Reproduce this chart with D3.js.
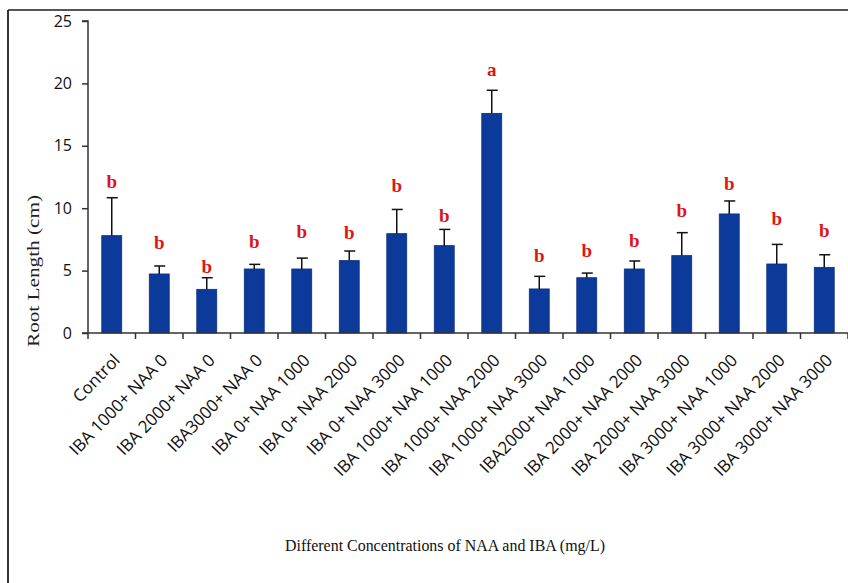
<!DOCTYPE html>
<html>
<head>
<meta charset="utf-8">
<script src="https://cdn.jsdelivr.net/npm/d3@7"></script>
<style>
  html, body { margin: 0; padding: 0; background: #fff; }
  svg { display: block; }
</style>
</head>
<body>
<script>
const categories = ["Control","IBA 1000+ NAA 0","IBA 2000+ NAA 0","IBA3000+ NAA 0","IBA 0+ NAA 1000","IBA 0+ NAA 2000","IBA 0+ NAA 3000","IBA 1000+ NAA 1000","IBA 1000+ NAA 2000","IBA 1000+ NAA 3000","IBA2000+ NAA 1000","IBA 2000+ NAA 2000","IBA 2000+ NAA 3000","IBA 3000+ NAA 1000","IBA 3000+ NAA 2000","IBA 3000+ NAA 3000"];
const means = [7.8, 4.73, 3.5, 5.13, 5.13, 5.8, 7.96, 7.0, 17.6, 3.53, 4.43, 5.13, 6.2, 9.54, 5.53, 5.26];
const errors = [3.04, 0.64, 0.93, 0.37, 0.87, 0.77, 1.94, 1.3, 1.85, 1.01, 0.37, 0.64, 1.84, 1.04, 1.57, 1.01];
const letters = ["b","b","b","b","b","b","b","b","a","b","b","b","b","b","b","b"];
const letterValues = [12.12, 7.24, 5.31, 7.32, 8.12, 8.0, 11.8, 9.4, 21.13, 6.17, 6.57, 7.4, 9.8, 12.0, 9.13, 8.17];
const yTicks = [0, 5, 10, 15, 20, 25];
const yTitle = "Root Length (cm)";
const xTitle = "Different  Concentrations of NAA and IBA (mg/L)";

const W = 848, H = 583;
const svg = d3.select("body").append("svg").attr("width", W).attr("height", H);

// frame
svg.append("line").attr("x1", 8).attr("x2", W).attr("y1", 10).attr("y2", 10)
  .attr("stroke", "#555").attr("stroke-width", 2);
svg.append("line").attr("x1", 8).attr("x2", 8).attr("y1", 10).attr("y2", H)
  .attr("stroke", "#333").attr("stroke-width", 2);

const x = d3.scaleBand().domain(categories).range([88, 848]).paddingInner(0.58).paddingOuter(0.29);
const y = d3.scaleLinear().domain([0, 25]).range([333, 21]);

// bars
svg.append("g").selectAll("rect").data(categories).join("rect")
  .attr("x", d => x(d))
  .attr("y", (d, i) => y(means[i]))
  .attr("width", x.bandwidth())
  .attr("height", (d, i) => y(0) - y(means[i]))
  .attr("fill", "#0c3a9a")
  .attr("stroke", "#0a2f80").attr("stroke-width", 0.8);

// error bars (upper only)
const eg = svg.append("g").attr("stroke", "#111").attr("stroke-width", 1.5);
categories.forEach((c, i) => {
  const cx = x(c) + x.bandwidth() / 2;
  eg.append("line").attr("x1", cx).attr("x2", cx)
    .attr("y1", y(means[i])).attr("y2", y(means[i] + errors[i]));
  eg.append("line").attr("x1", cx - 5).attr("x2", cx + 6)
    .attr("y1", y(means[i] + errors[i])).attr("y2", y(means[i] + errors[i]));
});

// significance letters
svg.append("g").selectAll("text").data(categories).join("text")
  .attr("x", d => x(d) + x.bandwidth() / 2)
  .attr("y", (d, i) => y(letterValues[i]))
  .attr("dy", "0.33em")
  .attr("text-anchor", "middle")
  .attr("font-family", "Liberation Serif, serif")
  .attr("font-weight", "bold")
  .attr("font-size", 19)
  .attr("fill", "#e01414")
  .text((d, i) => letters[i]);

// y axis
const yAxis = svg.append("g").attr("transform", "translate(88,0)")
  .call(d3.axisLeft(y).tickValues(yTicks).tickSize(6).tickPadding(10));
yAxis.selectAll("path, line").attr("stroke", "#333").attr("stroke-width", 1.5);
yAxis.select(".domain").attr("d", `M-6,${y(25)}H0V${y(0)}`);
yAxis.selectAll("text").attr("font-family", "Open Sans, sans-serif").attr("font-size", 16).attr("fill", "#111");

// x axis: ticks at band boundaries
const xAxisG = svg.append("g");
xAxisG.append("line").attr("x1", 82).attr("x2", 848).attr("y1", y(0)).attr("y2", y(0))
  .attr("stroke", "#333").attr("stroke-width", 1.5);
const step = x.step();
const bounds = d3.range(categories.length + 1).map(k => 88 + k * step);
xAxisG.selectAll("line.tk").data(bounds).join("line").attr("class", "tk")
  .attr("x1", d => d).attr("x2", d => d).attr("y1", y(0)).attr("y2", y(0) + 6)
  .attr("stroke", "#333").attr("stroke-width", 1.5);

xAxisG.selectAll("text").data(categories).join("text")
  .attr("transform", d => `translate(${x(d) + x.bandwidth() / 2 + 5},${y(0) + 24}) rotate(-46)`)
  .attr("text-anchor", "end")
  .attr("dy", "0.35em")
  .attr("font-family", "Open Sans, sans-serif")
  .attr("font-size", 17)
  .attr("fill", "#111")
  .text(d => d);

// axis titles
svg.append("text")
  .attr("transform", `translate(39,271) rotate(-90)`)
  .attr("text-anchor", "middle")
  .attr("font-family", "Liberation Serif, serif")
  .attr("font-size", 16)
  .attr("textLength", 152)
  .attr("lengthAdjust", "spacingAndGlyphs")
  .attr("fill", "#222")
  .text(yTitle);

svg.append("text")
  .attr("x", 445).attr("y", 551)
  .attr("text-anchor", "middle")
  .attr("font-family", "Liberation Serif, serif")
  .attr("font-size", 17)
  .attr("textLength", 320)
  .attr("lengthAdjust", "spacingAndGlyphs")
  .attr("fill", "#111")
  .text(xTitle);
</script>
</body>
</html>
